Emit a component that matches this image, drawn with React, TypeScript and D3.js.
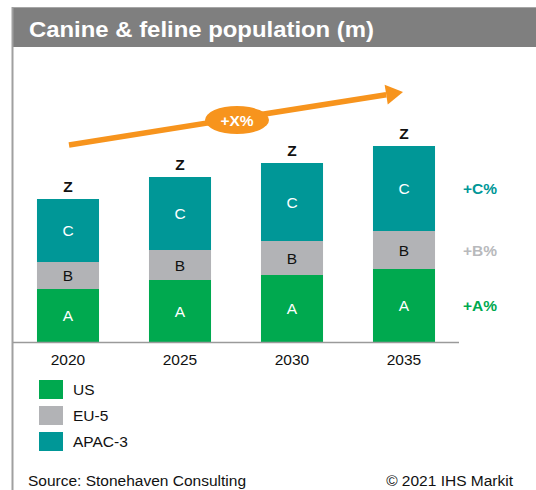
import React from 'react';
import * as d3 from 'd3';

// chart data (millions in relative units)
const years = ['2020', '2025', '2030', '2035'];
const usValues = [53, 62, 67, 73];
const euValues = [27, 30, 34, 38];
const apacValues = [63, 73, 78, 85];
const seriesNames = ['US', 'EU-5', 'APAC-3'];
const segmentLetters = ['A', 'B', 'C'];
const growthLabels = ['+A%', '+B%', '+C%'];
const totalLabel = 'Z';
const cagrLabel = '+X%';

const colors = ['#00a94f', '#b2b3b6', '#009797'];
const letterColors = ['#ffffff', '#111111', '#ffffff'];
const growthColors = ['#00a94f', '#b8b9bc', '#009797'];
const orange = '#f7941d';
const font = '"Liberation Sans", Arial, sans-serif';

function App() {
  const width = 536,
    height = 490;
  const baseline = 342;
  const fs = 15.5;

  const rows = years.map((y, i) => ({
    year: y,
    us: usValues[i],
    eu: euValues[i],
    apac: apacValues[i],
  }));
  const keys = ['us', 'eu', 'apac'];
  const stacked = d3.stack<any>().keys(keys)(rows);

  const x = d3.scaleBand().domain(years).range([12, 460]).paddingInner(0.446).paddingOuter(0.223);
  const y = d3.scaleLinear().domain([0, 200]).range([baseline, 142]);

  const last = years.length - 1;
  // arrow geometry
  const ax0 = 69,
    ay0 = 145,
    ax1 = 403,
    ay1 = 92;
  const ang = Math.atan2(ay1 - ay0, ax1 - ax0);
  const headLen = 17,
    headW = 10;
  const bx = ax1 - headLen * Math.cos(ang),
    by = ay1 - headLen * Math.sin(ang);
  const nx = -Math.sin(ang),
    ny = Math.cos(ang);
  const head = [
    [ax1, ay1],
    [bx + nx * headW, by + ny * headW],
    [bx - nx * headW, by - ny * headW],
  ];

  return (
    <svg
      width={width}
      height={height}
      style={{ position: 'absolute', left: 0, top: 0, fontFamily: font }}
    >
      <rect x={0} y={0} width={width} height={height} fill="#ffffff" />
      {/* title bar */}
      <rect x={12} y={7} width={width - 12} height={40} fill="#7f7f7f" />
      <line x1={12} x2={width} y1={7.5} y2={7.5} stroke="#a6a6a6" strokeWidth={1} />
      <line x1={12.5} x2={12.5} y1={7} y2={height} stroke="#a0a0a0" strokeWidth={2} />
      <text
        x={29}
        y={37}
        fill="#ffffff"
        fontSize={22}
        fontWeight="bold"
        textLength={345}
        lengthAdjust="spacingAndGlyphs"
      >
        Canine &amp; feline population (m)
      </text>

      {/* stacked bars */}
      {stacked.map((s, si) => (
        <g key={s.key}>
          {s.map((d, i) => (
            <g key={years[i]}>
              <rect
                x={x(years[i])}
                y={y(d[1])}
                width={x.bandwidth()}
                height={y(d[0]) - y(d[1])}
                fill={colors[si]}
              />
              <text
                x={(x(years[i]) as number) + x.bandwidth() / 2}
                y={(y(d[0]) + y(d[1])) / 2 + 5.5}
                textAnchor="middle"
                fontSize={fs}
                fill={letterColors[si]}
              >
                {segmentLetters[si]}
              </text>
            </g>
          ))}
        </g>
      ))}

      {/* totals */}
      {rows.map((r, i) => (
        <text
          key={r.year}
          x={(x(r.year) as number) + x.bandwidth() / 2}
          y={y(stacked[2][i][1]) - 7}
          textAnchor="middle"
          fontSize={fs}
          fontWeight="bold"
          fill="#111"
        >
          {totalLabel}
        </text>
      ))}

      {/* growth labels beside last bar */}
      {stacked.map((s, si) => (
        <text
          key={s.key}
          x={463}
          y={(y(s[last][0]) + y(s[last][1])) / 2 + 5.5}
          fontSize={fs}
          fontWeight="bold"
          fill={growthColors[si]}
        >
          {growthLabels[si]}
        </text>
      ))}

      {/* axis */}
      <line x1={13} x2={459} y1={baseline + 0.5} y2={baseline + 0.5} stroke="#9a9a9a" strokeWidth={1.5} />
      {years.map((yr) => (
        <text
          key={yr}
          x={(x(yr) as number) + x.bandwidth() / 2}
          y={364.5}
          textAnchor="middle"
          fontSize={fs}
          fill="#111"
        >
          {yr}
        </text>
      ))}

      {/* CAGR arrow */}
      <line x1={ax0} y1={ay0} x2={bx} y2={by} stroke={orange} strokeWidth={5.5} />
      <polygon points={head.map((p) => p.join(',')).join(' ')} fill={orange} />
      <ellipse cx={237} cy={120} rx={32} ry={14} fill={orange} />
      <text x={237} y={125.5} textAnchor="middle" fontSize={fs} fontWeight="bold" fill="#ffffff">
        {cagrLabel}
      </text>

      {/* legend */}
      {seriesNames.map((n, i) => (
        <g key={n} transform={`translate(39, ${380 + i * 26})`}>
          <rect x={0} y={0} width={24} height={19} fill={colors[i]} />
          <text x={34} y={15} fontSize={fs} fill="#111">
            {n}
          </text>
        </g>
      ))}

      {/* footer */}
      <text x={28} y={486} fontSize={fs} fill="#111">
        Source: Stonehaven Consulting
      </text>
      <text x={513} y={486} textAnchor="end" fontSize={fs} fill="#111">
        © 2021 IHS Markit
      </text>
    </svg>
  );
}

export default App;
